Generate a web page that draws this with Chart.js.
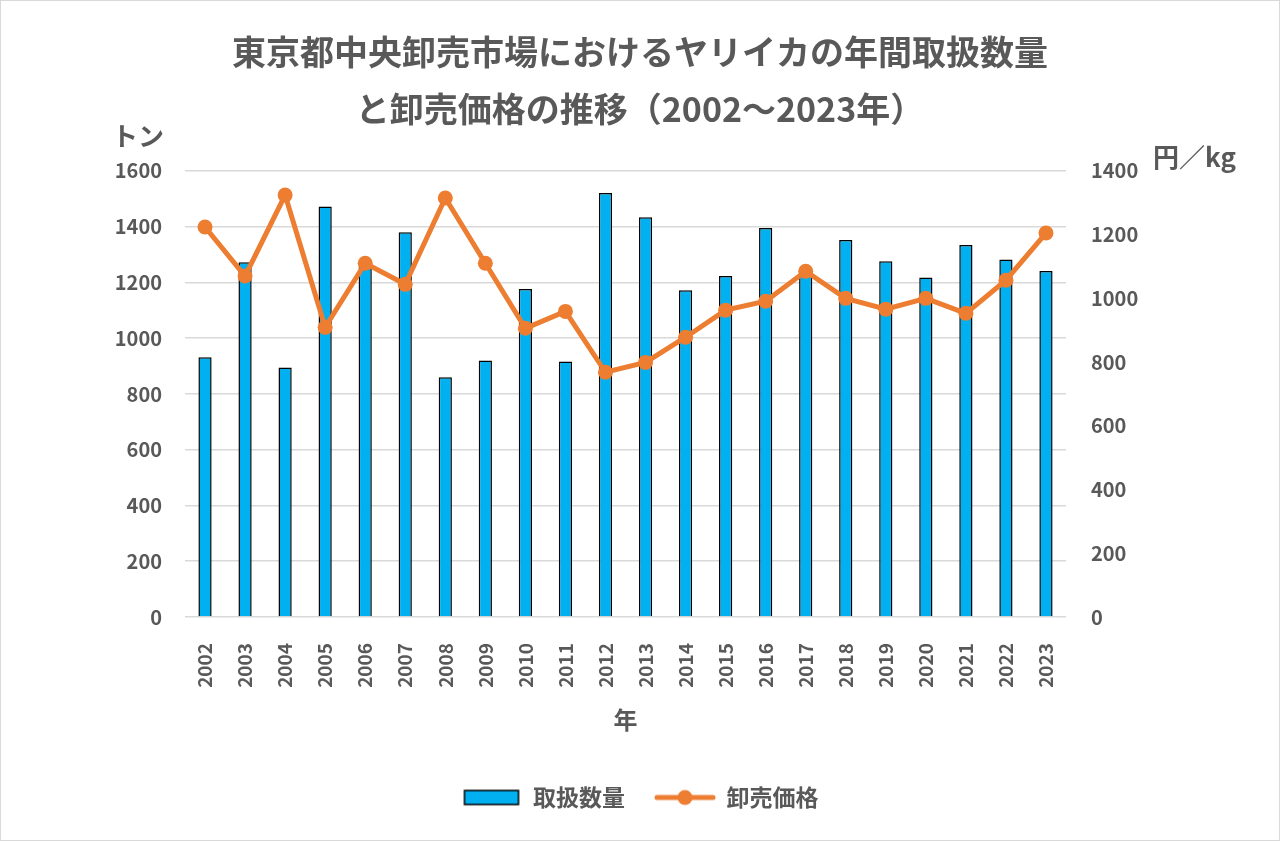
<!DOCTYPE html>
<html lang="ja">
<head>
<meta charset="utf-8">
<title>東京都中央卸売市場におけるヤリイカの年間取扱数量と卸売価格の推移</title>
<script src="https://cdn.jsdelivr.net/npm/chart.js@4/dist/chart.umd.min.js"></script>
<style>
    html, body { margin: 0; padding: 0; background: #fff; }
    #wrap { position: relative; width: 1280px; height: 841px; }
</style>
</head>
<body>
<div id="wrap"><canvas id="myChart"></canvas></div>
<script>
var years = ['2002', '2003', '2004', '2005', '2006', '2007', '2008', '2009', '2010', '2011', '2012',
    '2013', '2014', '2015', '2016', '2017', '2018', '2019', '2020', '2021', '2022', '2023'];
// 取扱数量 (トン)
var volume = [932, 1272, 895, 1472, 1255, 1380, 860, 920, 1176, 916, 1521,
    1434, 1172, 1223, 1395, 1252, 1352, 1276, 1218, 1334, 1282, 1241];
// 卸売価格 (円/kg)
var price = [1224, 1070, 1324, 909, 1110, 1044, 1315, 1110, 906, 959, 768,
    799, 878, 963, 991, 1085, 1000, 966, 1000, 953, 1057, 1205];
var leftTicks = { min: 0, max: 1600, step: 200 };
var rightTicks = { min: 0, max: 1400, step: 200 };

var textColor = '#595959';
var fontName = '"Noto Sans CJK JP", "Noto Sans", sans-serif';

// legend swatches like excel
function barSwatch() {
    var c = document.createElement('canvas');
    c.width = 58; c.height = 18;
    var x = c.getContext('2d');
    x.fillStyle = '#00B0F0';
    x.fillRect(2, 2, 54, 14);
    x.strokeStyle = '#000';
    x.lineWidth = 1.5;
    x.strokeRect(2, 2, 54, 14);
    return c;
}
function lineSwatch() {
    var c = document.createElement('canvas');
    c.width = 62; c.height = 18;
    var x = c.getContext('2d');
    x.strokeStyle = '#ED7D31';
    x.lineWidth = 5;
    x.lineCap = 'round';
    x.beginPath();
    x.moveTo(3, 9); x.lineTo(59, 9);
    x.stroke();
    x.fillStyle = '#ED7D31';
    x.beginPath();
    x.arc(31, 9, 7.5, 0, Math.PI * 2);
    x.fill();
    return c;
}

function plain(v) { return String(v); }

var frame = {
    id: 'frame',
    beforeDraw: function (chart) {
        var ctx = chart.ctx;
        ctx.save();
        ctx.fillStyle = '#fff';
        ctx.fillRect(0, 0, chart.width, chart.height);
        ctx.strokeStyle = '#d9d9d9';
        ctx.lineWidth = 1;
        ctx.strokeRect(0.5, 0.5, chart.width - 1, chart.height - 1);
        ctx.restore();
    },
    afterDraw: function (chart) {
        // unit labels above the two y axes
        var ctx = chart.ctx;
        ctx.save();
        ctx.fillStyle = textColor;
        ctx.textBaseline = 'middle';
        ctx.font = 'bold 26px ' + fontName;
        ctx.textAlign = 'center';
        ctx.fillText('トン', 138, 136);
        ctx.textAlign = 'left';
        ctx.fillText('円／kg', 1153, 157);
        ctx.restore();
    }
};

var ctx = document.getElementById('myChart').getContext('2d');
var myChart = new Chart(ctx, {
    type: 'bar',
    data: {
        labels: years,
        datasets: [{
            type: 'bar',
            label: '取扱数量',
            data: volume,
            yAxisID: 'y',
            backgroundColor: '#00B0F0',
            borderColor: '#000',
            borderWidth: 1.5,
            barPercentage: 0.33,
            categoryPercentage: 1,
            order: 1
        }, {
            type: 'line',
            label: '卸売価格',
            data: price,
            yAxisID: 'y2',
            borderColor: '#ED7D31',
            backgroundColor: '#ED7D31',
            borderWidth: 5,
            pointRadius: 7.5,
            pointHoverRadius: 7.5,
            pointBorderWidth: 0,
            tension: 0,
            order: 0
        }]
    },
    options: {
        responsive: true,
        maintainAspectRatio: false,
        devicePixelRatio: 1,
        animation: false,
        layout: { padding: { top: 24, left: 0, right: 0, bottom: 22 } },
        plugins: {
            title: {
                display: true,
                text: ['東京都中央卸売市場におけるヤリイカの年間取扱数量', 'と卸売価格の推移（2002〜2023年）'],
                color: textColor,
                font: { family: fontName, size: 34, weight: 'bold', lineHeight: 1.66 },
                padding: { top: 0, bottom: 34 }
            },
            legend: {
                position: 'bottom',
                labels: {
                    usePointStyle: true,
                    pointStyleWidth: 60,
                    padding: 30,
                    color: textColor,
                    font: { family: fontName, size: 23, weight: 'bold' },
                    generateLabels: function () {
                        return [
                            { text: '取扱数量', pointStyle: barSwatch(), fontColor: textColor, datasetIndex: 0, lineWidth: 0 },
                            { text: '卸売価格', pointStyle: lineSwatch(), fontColor: textColor, datasetIndex: 1, lineWidth: 0 }
                        ];
                    }
                }
            },
            tooltip: { enabled: false }
        },
        scales: {
            x: {
                grid: { display: false },
                border: { display: false },
                ticks: {
                    color: textColor,
                    font: { family: fontName, size: 19, weight: 'bold' },
                    minRotation: 90,
                    maxRotation: 90,
                    padding: 18
                },
                title: {
                    display: true,
                    text: '年',
                    color: textColor,
                    font: { family: fontName, size: 24, weight: 'bold' },
                    padding: { top: 0, bottom: 22 }
                },
                afterFit: function (s) { s.height = 139; }
            },
            y: {
                position: 'left',
                min: leftTicks.min,
                max: leftTicks.max,
                grid: { color: '#d9d9d9', lineWidth: 1.5, drawTicks: false },
                border: { display: false },
                ticks: {
                    stepSize: leftTicks.step,
                    callback: plain,
                    color: textColor,
                    font: { family: fontName, size: 20, weight: 'bold' },
                    padding: 23
                },
                afterFit: function (s) { s.width = 185; }
            },
            y2: {
                position: 'right',
                min: rightTicks.min,
                max: rightTicks.max,
                grid: { display: false, drawTicks: false },
                border: { display: false },
                ticks: {
                    stepSize: rightTicks.step,
                    callback: plain,
                    color: textColor,
                    font: { family: fontName, size: 20, weight: 'bold' },
                    padding: 25
                },
                afterFit: function (s) { s.width = 214; }
            }
        }
    },
    plugins: [frame]
});
</script>
</body>
</html>
